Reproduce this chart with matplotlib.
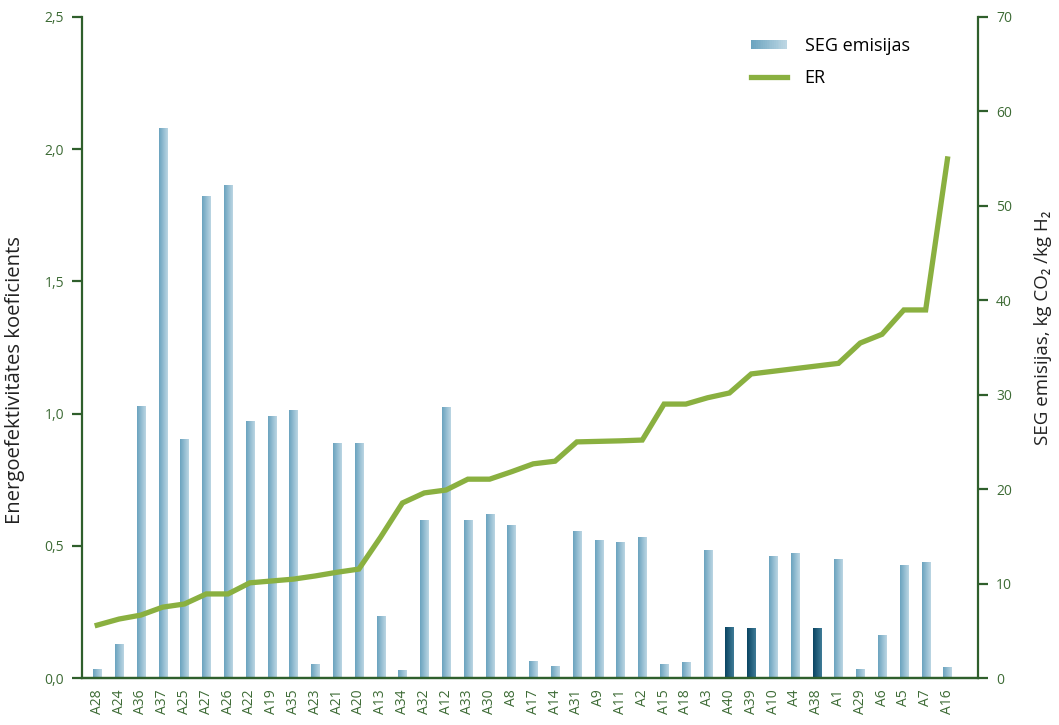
import matplotlib
matplotlib.use("Agg")
import matplotlib.pyplot as plt
import numpy as np
from matplotlib.patches import Rectangle
from matplotlib.lines import Line2D
from matplotlib.legend_handler import HandlerBase
from matplotlib.colors import LinearSegmentedColormap

plt.rcParams['font.family'] = ['Open Sans', 'DejaVu Sans']

labels = ['A28', 'A24', 'A36', 'A37', 'A25', 'A27', 'A26', 'A22', 'A19', 'A35',
          'A23', 'A21', 'A20', 'A13', 'A34', 'A32', 'A12', 'A33', 'A30', 'A8',
          'A17', 'A14', 'A31', 'A9', 'A11', 'A2', 'A15', 'A18', 'A3', 'A40',
          'A39', 'A10', 'A4', 'A38', 'A1', 'A29', 'A6', 'A5', 'A7', 'A16']

# SEG emisijas, kg CO2/kg H2 (right axis)
seg = [0.9, 3.6, 28.8, 58.2, 25.3, 51.0, 52.1, 27.2, 27.7, 28.3,
       1.4, 24.8, 24.8, 6.5, 0.8, 16.7, 28.6, 16.7, 17.3, 16.2,
       1.7, 1.2, 15.5, 14.6, 14.4, 14.9, 1.4, 1.6, 13.5, 5.4,
       5.2, 12.9, 13.2, 5.2, 12.6, 0.9, 4.5, 11.9, 12.2, 1.1]

# ER, energoefektivitātes koeficients (left axis)
er = [0.20, 0.223, 0.238, 0.268, 0.28, 0.318, 0.318, 0.36, 0.367, 0.374,
      0.386, 0.40, 0.412, 0.533, 0.662, 0.70, 0.711, 0.752, 0.752, 0.78,
      0.81, 0.82, 0.893, 0.895, 0.897, 0.90, 1.036, 1.036, 1.06, 1.078,
      1.15, 1.16, 1.17, 1.18, 1.19, 1.267, 1.30, 1.392, 1.392, 1.963]

dark_bars = ['A40', 'A39', 'A38']

green_dark = '#2f5f2c'
tick_green = '#3d6b35'
line_green = '#8ab040'
light_cmap = LinearSegmentedColormap.from_list('light', ['#6aa3bf', '#bcd6e3'])
dark_cmap = LinearSegmentedColormap.from_list('dark', ['#0a4562', '#3f7b97'])

x = np.arange(len(labels))

fig = plt.figure(figsize=(10.59, 7.25), dpi=100)
ax1 = fig.add_axes([0.0774, 0.0648, 0.8461, 0.9118])
ax2 = ax1.twinx()

# bars with horizontal gradient
bars = ax2.bar(x, seg, width=0.37, color='none', edgecolor='none')
grad = np.linspace(0, 1, 64).reshape(1, -1)
for lab, b in zip(labels, bars):
    x0, w, h = b.get_x(), b.get_width(), b.get_height()
    cmap = dark_cmap if lab in dark_bars else light_cmap
    ax2.imshow(grad, extent=[x0, x0 + w, 0, h], aspect='auto', cmap=cmap,
               interpolation='bilinear', zorder=2)

ax1.plot(x, er, color=line_green, lw=3.8, solid_joinstyle='miter', zorder=3)

ax1.set_zorder(ax2.get_zorder() + 1)
ax1.patch.set_visible(False)

ax1.set_xlim(-0.7, 40.4)
ax1.set_ylim(0, 2.5)
ax2.set_ylim(0, 70)

ax1.set_yticks(np.arange(0, 2.51, 0.5))
ax1.set_yticklabels([f'{v:.1f}'.replace('.', ',') for v in np.arange(0, 2.51, 0.5)])
ax2.set_yticks(range(0, 71, 10))

ax1.set_xticks(x)
ax1.set_xticklabels(labels, rotation=90)

for ax in (ax1, ax2):
    ax.spines['top'].set_visible(False)
    for s in ('left', 'right', 'bottom'):
        ax.spines[s].set_color(green_dark)
        ax.spines[s].set_linewidth(1.6)
    ax.tick_params(axis='y', colors=green_dark, labelcolor=tick_green,
                   length=7, width=1.6, labelsize=10, pad=6)
ax1.spines['right'].set_visible(False)
ax2.spines['left'].set_visible(False)
ax1.tick_params(axis='x', length=0, labelcolor=tick_green, labelsize=10, pad=8)

ax1.set_ylabel('Energoefektivitātes koeficients', fontsize=14.6, color='#222222')
ax1.yaxis.set_label_coords(-0.064, 0.45)
ax2.set_ylabel('SEG emisijas, kg CO₂ /kg H₂', fontsize=13.5, color='#222222')
ax2.yaxis.set_label_coords(1.062, 0.53)


class GradientHandler(HandlerBase):
    def create_artists(self, legend, orig_handle, xdescent, ydescent,
                       width, height, fontsize, trans):
        n = 20
        cols = light_cmap(np.linspace(0, 1, n))
        arts = []
        for i in range(n):
            r = Rectangle((-xdescent + i * width / n, -ydescent + height * 0.1),
                          width / n * 1.05, height * 0.75, facecolor=cols[i],
                          edgecolor='none', transform=trans)
            arts.append(r)
        return arts


seg_handle = Rectangle((0, 0), 1, 1)
er_handle = Line2D([], [], color=line_green, lw=3.8)
ax1.legend([seg_handle, er_handle], ['SEG emisijas', 'ER'],
           handler_map={Rectangle: GradientHandler()},
           loc='upper left', bbox_to_anchor=(0.728, 0.995), frameon=False,
           fontsize=13, handlelength=2.0, handletextpad=1.0, labelspacing=0.8)

fig.savefig('out.png', dpi=100)
